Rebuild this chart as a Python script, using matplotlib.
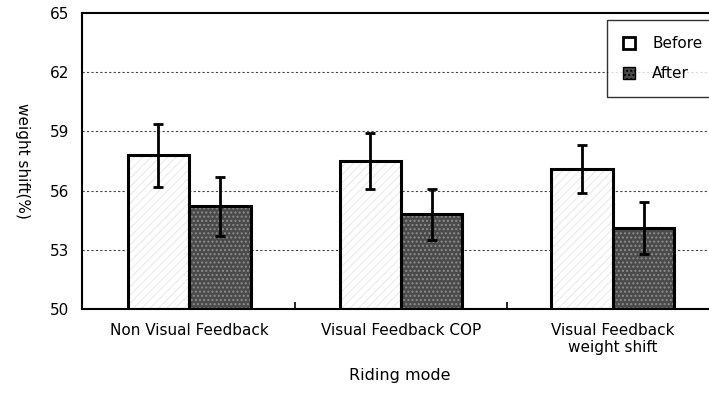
import numpy as np
import matplotlib
matplotlib.use("Agg")
import matplotlib.pyplot as plt
from matplotlib.patches import Patch

# Weight shift by riding mode, before and after training
modes = ["Non Visual Feedback", "Visual Feedback COP", "Visual Feedback\nweight shift"]
before_mean = [57.8, 57.5, 57.1]
before_sd = [1.6, 1.4, 1.2]
after_mean = [55.2, 54.8, 54.1]
after_sd = [1.5, 1.3, 1.3]
y_ticks = [50, 53, 56, 59, 62, 65]

plt.rcParams['font.family'] = ['DejaVu Sans']

fig = plt.figure(figsize=(7.09, 3.94), dpi=100)
ax = fig.add_axes([82 / 709, 85 / 394, 638 / 709, 296 / 394])

x = np.arange(len(modes))
w = 0.29
base = 50
before_h = np.array(before_mean) - base
after_h = np.array(after_mean) - base

# before: white bars with a faint texture
ax.bar(x - w / 2, before_h, w, bottom=base, facecolor='white', linewidth=0, zorder=2)
ax.bar(x - w / 2, before_h, w, bottom=base, facecolor='none',
       edgecolor='#eeeeee', hatch='////', linewidth=0, zorder=2)
ax.bar(x - w / 2, before_h, w, bottom=base, facecolor='none',
       edgecolor='black', linewidth=2.2, zorder=3)

# after: dark stippled bars
ax.bar(x + w / 2, after_h, w, bottom=base, facecolor='#4a4a4a', linewidth=0, zorder=2)
ax.bar(x + w / 2, after_h, w, bottom=base, facecolor='none',
       edgecolor='#8c8c8c', hatch='....', linewidth=0, zorder=2)
ax.bar(x + w / 2, after_h, w, bottom=base, facecolor='none',
       edgecolor='black', linewidth=2.2, zorder=3)

ax.errorbar(x - w / 2, before_mean, yerr=before_sd, fmt='none', ecolor='black',
            elinewidth=2, capsize=3.6, capthick=2, zorder=4)
ax.errorbar(x + w / 2, after_mean, yerr=after_sd, fmt='none', ecolor='black',
            elinewidth=2, capsize=3.6, capthick=2, zorder=4)

ax.set_ylim(50, 65)
ax.set_yticks(y_ticks)
ax.set_xlim(-0.505, 2.505)
ax.set_xticks(x)
ax.set_xticklabels(modes, fontsize=11)
ax.set_xticks([0.5, 1.5], minor=True)
ax.tick_params(axis='x', which='major', length=0, pad=10)
ax.tick_params(axis='x', which='minor', direction='in', length=5, width=1.2)
ax.tick_params(axis='y', length=0, labelsize=11, pad=9)

for yv in y_ticks[1:-1]:
    ax.axhline(yv, color='#444444', linewidth=0.8, linestyle=(0, (2, 2)), zorder=1)

for side in ['left', 'bottom', 'top']:
    ax.spines[side].set_linewidth(1.5)
ax.spines['right'].set_visible(False)

ax.set_ylabel('weight shift(%)', rotation=270, fontsize=11)
ax.yaxis.set_label_coords(-0.105, 0.5)
ax.set_xlabel('Riding mode', fontsize=11.5)
ax.xaxis.set_label_coords(318 / 638, -0.2)

handles = [Patch(facecolor='white', edgecolor='black', linewidth=2),
           Patch(facecolor='#4a4a4a', edgecolor='black', hatch='....', linewidth=1)]
leg = fig.legend(handles, ['Before', 'After'], loc='upper left',
                 bbox_to_anchor=(607 / 709, 1 - 20 / 394), borderaxespad=0,
                 fontsize=11, handlelength=0.8, handleheight=0.8,
                 handletextpad=1.1, labelspacing=1.0, borderpad=1.05,
                 fancybox=False, edgecolor='black')
leg.get_frame().set_linewidth(1.0)

fig.savefig('out.png', dpi=100)
